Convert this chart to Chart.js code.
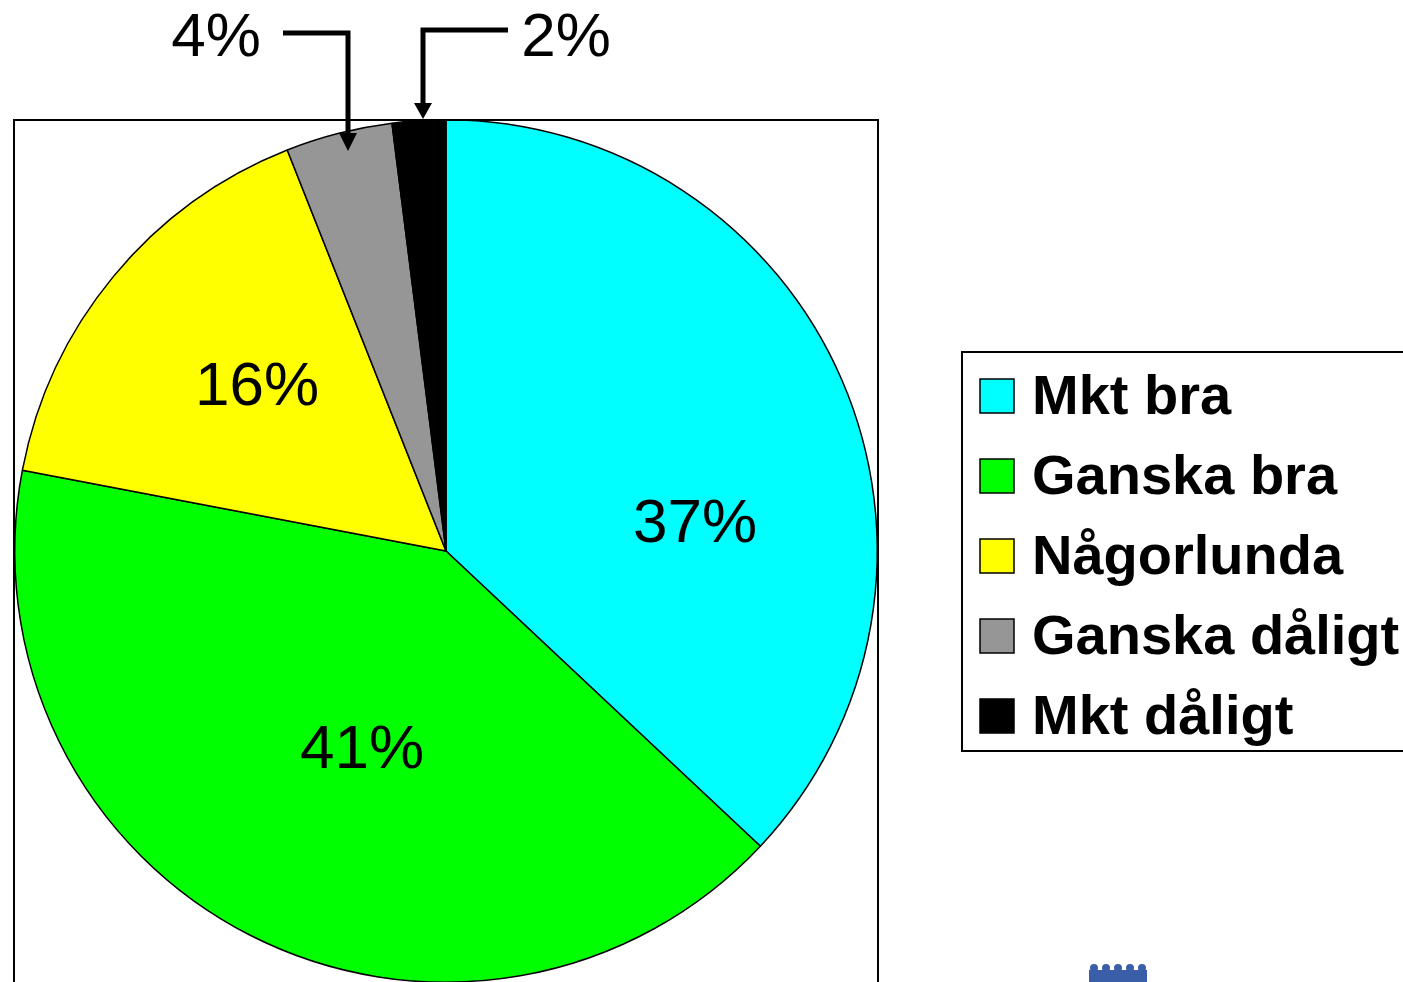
<!DOCTYPE html>
<html>
<head>
<meta charset="utf-8">
<script src="https://cdn.jsdelivr.net/npm/chart.js@4.4.1/dist/chart.umd.min.js"></script>
<style>
  html, body { margin: 0; padding: 0; background: #fff; overflow: hidden; }
  #wrap { width: 1403px; height: 982px; overflow: hidden; position: relative; }
  canvas { display: block; }
</style>
</head>
<body>
<div id="wrap"><canvas id="pie" width="1403" height="1000"></canvas></div>
<script>
// Data
const labels = ['Mkt bra', 'Ganska bra', 'Någorlunda', 'Ganska dåligt', 'Mkt dåligt'];
const values = [37, 41, 16, 4, 2];
const colors = ['#00FFFF', '#00FF00', '#FFFF00', '#969696', '#000000'];
const pctLabels = ['37%', '41%', '16%', '4%', '2%'];

// where the percent labels sit (text centre x, baseline y)
const labelSpots = [[695, 542], [362, 768], [257, 405], [216, 56], [566, 56]];

const font = '"Liberation Sans", Arial, sans-serif';

// plot frame, labels, callout arrows
const decorations = {
  id: 'decorations',
  afterDraw(chart) {
    const ctx = chart.ctx;
    ctx.save();

    // plot area frame
    ctx.strokeStyle = '#000';
    ctx.lineWidth = 2;
    ctx.strokeRect(14, 120, 864, 900);

    // percent labels
    ctx.fillStyle = '#000';
    ctx.font = '62px ' + font;
    ctx.textAlign = 'center';
    ctx.textBaseline = 'alphabetic';
    pctLabels.forEach((t, i) => {
      ctx.fillText(t, labelSpots[i][0], labelSpots[i][1]);
    });

    // callout arrows for the small slices
    ctx.lineWidth = 5;
    ctx.lineCap = 'butt';
    ctx.beginPath();
    ctx.moveTo(283, 33);
    ctx.lineTo(348, 33);
    ctx.lineTo(348, 136);
    ctx.stroke();
    ctx.beginPath();
    ctx.moveTo(339, 133);
    ctx.lineTo(357, 133);
    ctx.lineTo(348, 151);
    ctx.closePath();
    ctx.fill();

    ctx.beginPath();
    ctx.moveTo(508, 30);
    ctx.lineTo(423, 30);
    ctx.lineTo(423, 106);
    ctx.stroke();
    ctx.beginPath();
    ctx.moveTo(414, 103);
    ctx.lineTo(432, 103);
    ctx.lineTo(423, 119);
    ctx.closePath();
    ctx.fill();

    // legend
    ctx.lineWidth = 2;
    ctx.strokeRect(962, 352, 460, 399);
    ctx.font = 'bold 56px ' + font;
    ctx.textAlign = 'left';
    ctx.textBaseline = 'middle';
    labels.forEach((t, i) => {
      const y = 396 + i * 80;
      ctx.fillStyle = colors[i];
      ctx.fillRect(980, y - 17, 34, 34);
      ctx.lineWidth = 1.5;
      ctx.strokeStyle = '#000';
      ctx.strokeRect(980, y - 17, 34, 34);
      ctx.fillStyle = '#000';
      ctx.fillText(t, 1032, y + 3);
    });

    // bits of the logo in the corner
    ctx.fillStyle = '#3a5fa8';
    ctx.fillRect(1089, 970, 58, 12);
    for (let k = 0; k < 5; k++) {
      ctx.beginPath();
      ctx.arc(1094 + k * 12, 968, 4, 0, Math.PI * 2);
      ctx.fill();
    }

    ctx.restore();
  }
};

new Chart(document.getElementById('pie'), {
  type: 'pie',
  data: {
    labels: labels,
    datasets: [{
      data: values,
      backgroundColor: colors,
      borderColor: '#000',
      borderWidth: 1.5
    }]
  },
  options: {
    responsive: false,
    animation: false,
    devicePixelRatio: 1,
    layout: { padding: { left: 14, top: 119, right: 525, bottom: 17 } },
    plugins: {
      legend: { display: false },
      tooltip: { enabled: false }
    }
  },
  plugins: [decorations]
});
</script>
</body>
</html>
